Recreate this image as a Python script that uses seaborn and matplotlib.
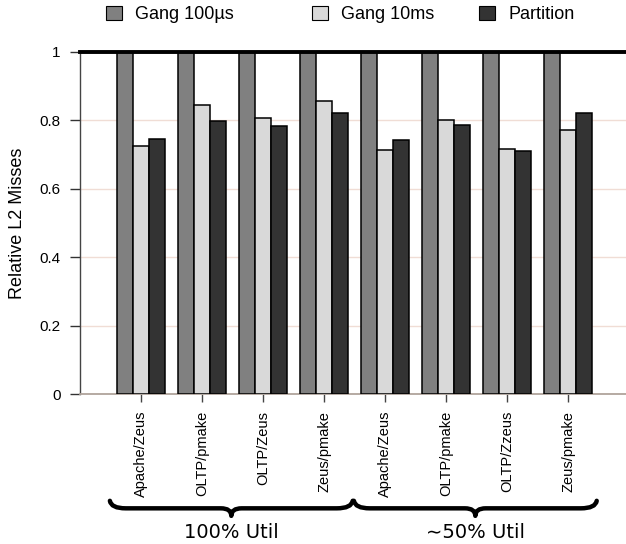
import numpy as np
import pandas as pd
import seaborn as sns
import matplotlib
matplotlib.use("Agg")
import matplotlib.pyplot as plt
from matplotlib.path import Path
from matplotlib.patches import PathPatch, Patch
from matplotlib.transforms import blended_transform_factory

# Workload pairs (two utilisation regimes, four pairs each)
workloads = ["Apache/Zeus", "OLTP/pmake", "OLTP/Zeus", "Zeus/pmake",
             "Apache/Zeus", "OLTP/pmake", "OLTP/Zzeus", "Zeus/pmake"]
schemes = ["Gang 100µs", "Gang 10ms", "Partition"]

gang_100us = [1.0, 1.0, 1.0, 1.0, 1.0, 1.0, 1.0, 1.0]
gang_10ms = [0.725, 0.843, 0.807, 0.855, 0.713, 0.800, 0.716, 0.771]
partition = [0.745, 0.799, 0.782, 0.821, 0.741, 0.787, 0.711, 0.821]

regimes = ["100% Util", "∼50% Util"]
regime_groups = [[0, 1, 2, 3], [4, 5, 6, 7]]

colors = ["#808080", "#d9d9d9", "#333333"]

rows = []
for i in range(len(workloads)):
    for name, series in zip(schemes, [gang_100us, gang_10ms, partition]):
        rows.append({"idx": i, "scheme": name, "value": series[i]})
df = pd.DataFrame(rows)

sns.set_style("white")
plt.rcParams["font.family"] = ["Liberation Sans", "DejaVu Sans"]
plt.rcParams["text.color"] = "black"
plt.rcParams["axes.labelcolor"] = "black"

fig = plt.figure(figsize=(6.26, 5.44), dpi=100)
ax = fig.add_axes([80 / 626, 150 / 544, 546 / 626, 342.3 / 544])

sns.barplot(data=df, x="idx", y="value", hue="scheme", hue_order=schemes,
            palette=colors, width=0.8, edgecolor="black", linewidth=1.1,
            saturation=1, legend=False, ax=ax, zorder=3)

ax.set_ylim(0, 1)
ax.set_xlim(-1.0, 7.95)
ax.set_yticks([0, 0.2, 0.4, 0.6, 0.8, 1.0])
ax.set_yticklabels(["0", "0.2", "0.4", "0.6", "0.8", "1"], fontsize=11)
ax.set_xticks(range(len(workloads)))
ax.set_xticklabels(workloads, rotation=90, fontsize=10.5)
ax.set_xlabel("")
ax.set_ylabel("Relative L2 Misses", fontsize=13, labelpad=10)

ax.yaxis.grid(True, color="#f0ddd5", linewidth=1.0, zorder=0)
ax.xaxis.grid(False)
ax.set_axisbelow(True)

ax.tick_params(axis="y", direction="out", length=7, width=1, color="#333333",
               labelcolor="black", pad=7, left=True)
ax.tick_params(axis="x", direction="out", length=6, width=1, color="#444444",
               labelcolor="black", pad=6, bottom=True)

ax.spines["left"].set_color("#444444")
ax.spines["left"].set_linewidth(1.0)
ax.spines["bottom"].set_color("#b0a49c")
ax.spines["bottom"].set_linewidth(1.3)
ax.spines["top"].set_color("black")
ax.spines["top"].set_linewidth(2.8)
ax.spines["top"].set_zorder(5)
ax.spines["right"].set_visible(False)

# Legend entries placed across the top
legend_x = [106 / 626, 312 / 626, 479 / 626]
for name, col, lx in zip(schemes, colors, legend_x):
    fig.legend(handles=[Patch(facecolor=col, edgecolor="black", linewidth=0.8)],
               labels=[name], loc="center left",
               bbox_to_anchor=(lx, 1 - 14.5 / 544), frameon=False,
               fontsize=13, handlelength=0.87, handleheight=0.87,
               handletextpad=0.75, borderpad=0, borderaxespad=0,
               labelcolor="black")

# Curly braces grouping the workload pairs by utilisation
trans = blended_transform_factory(ax.transData, ax.transAxes)
y_end, y_line, y_tip = -0.312, -0.334, -0.356
r_end, r_tip = 0.26, 0.17


def draw_brace(x0, x1):
    xm = (x0 + x1) / 2
    verts = [(x0, y_end), (x0 + 0.02, y_line), (x0 + r_end, y_line),
             (xm - r_tip, y_line), (xm, y_line), (xm, y_tip),
             (xm, y_line), (xm + r_tip, y_line),
             (x1 - r_end, y_line), (x1 - 0.02, y_line), (x1, y_end)]
    codes = [Path.MOVETO, Path.CURVE3, Path.CURVE3,
             Path.LINETO, Path.CURVE3, Path.CURVE3,
             Path.CURVE3, Path.CURVE3,
             Path.LINETO, Path.CURVE3, Path.CURVE3]
    patch = PathPatch(Path(verts, codes), fill=False, lw=3.2, color="black",
                      transform=trans, clip_on=False, capstyle="round",
                      joinstyle="round")
    ax.add_patch(patch)
    return xm


for label, grp in zip(regimes, regime_groups):
    xm = draw_brace(grp[0] - 0.51, grp[-1] + 0.47)
    ax.text(xm, -0.405, label, transform=trans, ha="center", va="center",
            fontsize=14, family=["DejaVu Sans"])

fig.savefig("out.png", dpi=100)
